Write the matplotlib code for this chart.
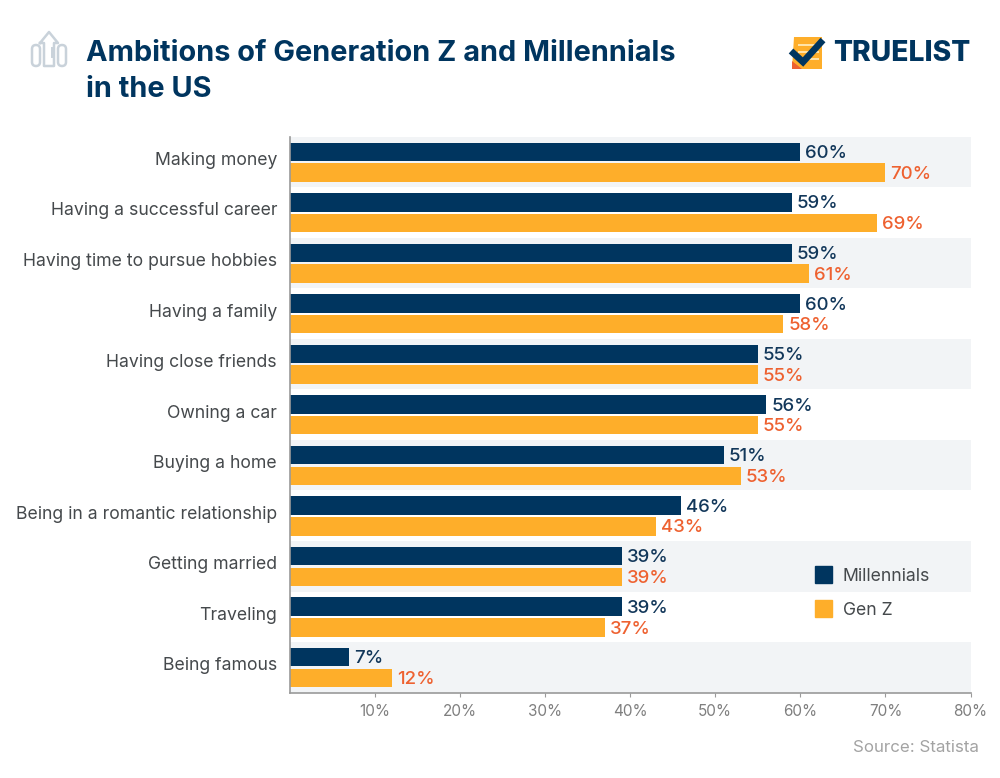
import matplotlib
matplotlib.use('Agg')
import matplotlib.pyplot as plt
from matplotlib.patches import Polygon, Rectangle, FancyBboxPatch
from matplotlib.transforms import ScaledTranslation

plt.rcParams['font.family'] = ['Inter', 'DejaVu Sans']

categories = ['Making money', 'Having a successful career', 'Having time to pursue hobbies',
              'Having a family', 'Having close friends', 'Owning a car', 'Buying a home',
              'Being in a romantic relationship', 'Getting married', 'Traveling', 'Being famous']
millennials = [60, 59, 59, 60, 55, 56, 51, 46, 39, 39, 7]
gen_z = [70, 69, 61, 58, 55, 55, 53, 43, 39, 37, 12]
xticks = [10, 20, 30, 40, 50, 60, 70, 80]

NAVY = '#00355f'
ORANGE = '#feae2a'
RED = '#ee6130'
BAND = '#f2f4f6'
W, H = 1000, 778

fig = plt.figure(figsize=(W / 100, H / 100), dpi=100)
ax = fig.add_axes([289.6 / W, 1 - 692.6 / H, 681 / W, 556 / H])

for i in range(0, len(categories), 2):
    ax.axhspan(i - 0.5, i + 0.5, color=BAND, lw=0, zorder=0)

pos = list(range(len(categories)))
ax.barh([p - 0.2 for p in pos], millennials, height=0.365, color=NAVY, zorder=2)
ax.barh([p + 0.21 for p in pos], gen_z, height=0.365, color=ORANGE, zorder=2)

for p, m, g in zip(pos, millennials, gen_z):
    ax.annotate(f'{m}%', (m, p - 0.2), xytext=(3.6, -1.2), textcoords='offset points',
                va='center', fontsize=13.4, fontweight='medium', color='#12375a', zorder=3)
    ax.annotate(f'{g}%', (g, p + 0.21), xytext=(3.6, -1.2), textcoords='offset points',
                va='center', fontsize=13.4, fontweight='medium', color=RED, zorder=3)

ax.set_xlim(0, 80)
ax.set_ylim(len(categories) - 0.5, -0.5)
ax.set_xticks(xticks, [f'{t}%' for t in xticks])
ax.set_yticks(pos, categories)
ax.tick_params(axis='y', length=0, pad=9, labelsize=12.7, labelcolor='#45494c')
ax.tick_params(axis='x', length=3, width=0.8, color='#9a9a9a', pad=5, labelsize=11, labelcolor='#7f7f7f')
# category labels sit a little above the centre of their row
for lab in ax.get_yticklabels():
    lab.set_transform(lab.get_transform() + ScaledTranslation(0, 2.5 / 72, fig.dpi_scale_trans))
for s in ['top', 'right']:
    ax.spines[s].set_visible(False)
for s in ['left', 'bottom']:
    ax.spines[s].set_color('#9a9a9a')
    ax.spines[s].set_linewidth(1.2)

# overlay in pixel coordinates for the header, legend and logo
ov = fig.add_axes([0, 0, 1, 1], facecolor='none')
ov.set_xlim(0, W)
ov.set_ylim(H, 0)
ov.axis('off')

ov.text(86, 53.5, 'Ambitions of Generation Z and Millennials', fontsize=20.8, fontweight='bold',
        color=NAVY, va='center')
ov.text(86, 89, 'in the US', fontsize=20.8, fontweight='bold', color=NAVY, va='center')
ov.text(979, 748, 'Source: Statista', fontsize=12.2, color='#a3a3a3', va='center', ha='right')

# legend
ov.add_patch(Rectangle((815, 566), 17, 17, color=NAVY))
ov.add_patch(Rectangle((815, 600), 17, 17, color=ORANGE))
ov.text(843, 576.5, 'Millennials', fontsize=12.7, color='#45494c', va='center')
ov.text(843, 610.5, 'Gen Z', fontsize=12.7, color='#45494c', va='center')

# chart icon, top left
ICON = '#c9d2da'
for x0 in [32, 58]:
    ov.add_patch(FancyBboxPatch((x0, 45), 8, 21, boxstyle='round,pad=0,rounding_size=4',
                                fc='none', ec=ICON, lw=1.8))
ov.plot([40, 49, 58, 54, 54, 44, 44, 40], [43, 32, 43, 43, 66, 66, 43, 43], color=ICON, lw=1.8,
        solid_joinstyle='round')
ov.plot([52, 52], [48, 57], color=ICON, lw=1.4)

# logo mark
ov.add_patch(Polygon([(794, 37), (822, 37), (822, 69), (792, 69)], closed=True, fc=ORANGE, lw=0))
for y in [44, 51, 58]:
    ov.add_patch(Rectangle((798, y), 21, 2.2, color='#ffe3a8', lw=0))
ov.add_patch(Polygon([(792, 61), (802, 69), (792, 69)], closed=True, fc=RED, lw=0))
ov.plot([791, 803, 823], [51, 62, 40], color=NAVY, lw=4.8, solid_capstyle='butt', solid_joinstyle='miter')
ov.text(970, 53.5, 'TRUELIST', fontsize=20.3, fontweight='heavy', color=NAVY, va='center', ha='right')

fig.savefig('out.png', dpi=100)
